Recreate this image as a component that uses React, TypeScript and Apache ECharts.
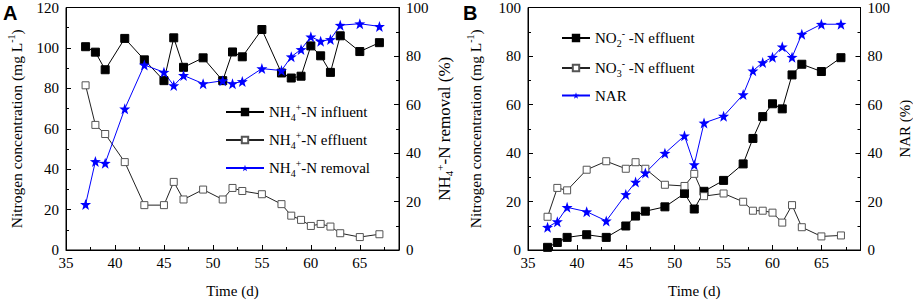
import { useEffect, useRef } from "react";
import * as echarts from "echarts";

const days = [37, 38, 39, 41, 43, 45, 46, 47, 49, 51, 52, 53, 55, 57, 58, 59, 60, 61, 62, 63, 65, 67];
const xTicks = [35, 40, 45, 50, 55, 60, 65];

// Panel A
const nh4Influent = [100.6, 97.9, 89.2, 104.7, 94.1, 83.8, 105, 90.4, 95.1, 83.8, 98, 95.6, 109.1, 87.6, 85.1, 86, 101, 96.1, 87.9, 106, 98.2, 102.6];
const nh4Effluent = [81.5, 61.9, 57.4, 43.5, 22.2, 22.2, 33.7, 25, 29.9, 25, 30.7, 29.2, 27.6, 22.7, 17, 14.9, 11.9, 12.9, 11.6, 8.3, 6.4, 7.8];
const nh4Removal = [18.8, 36.5, 35.8, 58.2, 76.3, 73.3, 67.8, 72, 68.6, 69.8, 68.6, 69.5, 74.8, 74, 79.7, 82.7, 87.9, 86.1, 86.8, 92.7, 93.3, 92.2];

// Panel B
const no2Effluent = [1.1, 3.1, 5.2, 6.3, 5.2, 9.9, 14, 16, 17.8, 23.3, 16.9, 24.2, 28.7, 35.5, 46, 55, 60.3, 58.2, 72.2, 76.6, 73.6, 79.3];
const no3Effluent = [13.7, 25.6, 24.6, 33.1, 36.6, 33.5, 36.2, 33.5, 26.9, 26.4, 31.4, 22.2, 23.3, 19.9, 16.2, 16.2, 15.4, 11.3, 18.5, 9.4, 5.6, 6];
const narValues = [9.4, 11.7, 17.6, 15.8, 12, 22.9, 28, 31.8, 39.9, 47.1, 35.2, 52.4, 55.2, 64.1, 73.9, 77.3, 79.5, 83.8, 79.5, 89, 93.1, 93.1];

const seriesNames = {
  inf: "NH4+-N influent",
  eff: "NH4+-N effluent",
  rem: "NH4+-N removal",
  no2: "NO2--N effluent",
  no3: "NO3--N effluent",
  nar: "NAR",
};

const legendRich: Record<string, string> = {
  [seriesNames.inf]: "{n|NH}{sub|4}{sup|+}{n|-N influent}",
  [seriesNames.eff]: "{n|NH}{sub|4}{sup|+}{n|-N effluent}",
  [seriesNames.rem]: "{n|NH}{sub|4}{sup|+}{n|-N removal}",
  [seriesNames.no2]: "{n|NO}{sub|2}{sup|-}{n| -N effluent}",
  [seriesNames.no3]: "{n|NO}{sub|3}{sup|-}{n| -N effluent}",
  [seriesNames.nar]: "{n|NAR}",
};

const FONT = "Liberation Serif";
const STAR = "path://M0,-10 L2.35,-3.24 L9.51,-3.09 L3.8,1.24 L5.88,8.09 L0,4 L-5.88,8.09 L-3.8,1.24 L-9.51,-3.09 L-2.35,-3.24 Z";
const BLUE = "#0000ff";

function richFor(size: number) {
  const small = Math.round(size * 0.67);
  return {
    n: { fontFamily: FONT, fontSize: size, fontWeight: "normal", color: "#000", lineHeight: 20 },
    sub: { fontFamily: FONT, fontSize: small, fontWeight: "normal", color: "#000", lineHeight: 12, verticalAlign: "bottom" },
    sup: { fontFamily: FONT, fontSize: small, fontWeight: "normal", color: "#000", lineHeight: 10, verticalAlign: "top" },
  };
}

function pairs(vals: number[]) {
  return days.map((d, i) => [d, vals[i]]);
}

function buildOption() {
  const grids = [
    { left: 66, top: 7, width: 333, height: 245 },
    { left: 528, top: 7, width: 334, height: 245 },
  ].map((g) => ({ ...g, show: true, borderColor: "#000", borderWidth: 1, backgroundColor: "transparent" }));

  const xAxis: any[] = [];
  [0, 1].forEach((gi) => {
    xAxis.push({
      type: "value",
      gridIndex: gi,
      min: xTicks[0],
      max: 69,
      interval: 5,
      position: "bottom",
      axisLine: { lineStyle: { color: "#000", width: 1 } },
      axisTick: { inside: true, length: 5, lineStyle: { color: "#000" } },
      axisLabel: { showMaxLabel: false, color: "#000", fontFamily: FONT, fontSize: 15, margin: 5 },
      splitLine: { show: false },
      name: "Time (d)",
      nameLocation: "middle",
      nameGap: 33,
      nameTextStyle: { color: "#000", fontFamily: FONT, fontSize: 15, fontWeight: "normal" },
    });
  });
  [0, 1].forEach((gi) => {
    xAxis.push({
      type: "value",
      gridIndex: gi,
      min: xTicks[0],
      max: 69,
      interval: 2.5,
      position: "bottom",
      axisLine: { show: false },
      axisTick: { inside: true, length: 3, lineStyle: { color: "#000" } },
      axisLabel: { show: false },
      splitLine: { show: false },
    });
  });

  const yBase = (gi: number, max: number, position: string, name: string, nameGap: number, size: number) => ({
    type: "value",
    gridIndex: gi,
    min: 0,
    max,
    interval: 20,
    position,
    axisLine: { show: true, lineStyle: { color: "#000", width: 1 } },
    axisTick: { show: true, inside: true, length: 5, lineStyle: { color: "#000" } },
    minorTick: { show: true, splitNumber: 2, length: 3, lineStyle: { color: "#000" } },
    axisLabel: { color: "#000", fontFamily: FONT, fontSize: 15, margin: 7 },
    splitLine: { show: false },
    minorSplitLine: { show: false },
    name,
    nameLocation: "middle",
    nameRotate: 90,
    nameGap,
    nameTextStyle: { rich: richFor(size), fontFamily: FONT, fontWeight: "normal", fontSize: size },
  });

  const yAxis = [
    yBase(0, 120, "left", "{n|Nitrogen concentration (mg L}{sup|-1}{n|)}", 40, 15.5),
    yBase(0, 100, "right", "{n|NH}{sub|4}{sup|+}{n|-N removal (%)}", 35, 17),
    yBase(1, 100, "left", "{n|Nitrogen concentration (mg L}{sup|-1}{n|)}", 43, 15.5),
    yBase(1, 100, "right", "{n|NAR (%)}", 34, 15),
  ];

  const filled = (name: string, vals: number[], xi: number, yi: number) => ({
    name,
    type: "line",
    xAxisIndex: xi,
    yAxisIndex: yi,
    data: pairs(vals),
    symbol: "rect",
    symbolSize: 8,
    lineStyle: { color: "#000", width: 1 },
    itemStyle: { color: "#000", borderColor: "#000", borderWidth: 1 },
  });
  const open = (name: string, vals: number[], xi: number, yi: number) => ({
    name,
    type: "line",
    xAxisIndex: xi,
    yAxisIndex: yi,
    data: pairs(vals),
    symbol: "rect",
    symbolSize: 7,
    lineStyle: { color: "#222", width: 1 },
    itemStyle: { color: "#fff", borderColor: "#555", borderWidth: 1 },
  });
  const star = (name: string, vals: number[], xi: number, yi: number) => ({
    name,
    type: "line",
    xAxisIndex: xi,
    yAxisIndex: yi,
    data: pairs(vals),
    symbol: STAR,
    symbolSize: 11,
    lineStyle: { color: BLUE, width: 1 },
    itemStyle: { color: BLUE, borderColor: BLUE, borderWidth: 0 },
  });

  const series = [
    filled(seriesNames.inf, nh4Influent, 0, 0),
    open(seriesNames.eff, nh4Effluent, 0, 0),
    star(seriesNames.rem, nh4Removal, 0, 1),
    filled(seriesNames.no2, no2Effluent, 1, 2),
    open(seriesNames.no3, no3Effluent, 1, 2),
    star(seriesNames.nar, narValues, 1, 3),
  ];

  const legendBase = {
    orient: "vertical",
    itemHeight: 8,
    formatter: (name: string) => legendRich[name] || name,
    textStyle: { rich: richFor(15), fontFamily: FONT, fontSize: 15, color: "#000" },
    selectedMode: false,
  };

  return {
    animation: false,
    backgroundColor: "#fff",
    grid: grids,
    xAxis,
    yAxis,
    series,
    legend: [
      { ...legendBase, left: 220, top: 97, itemWidth: 38, itemGap: 8, data: [seriesNames.inf, seriesNames.eff, seriesNames.rem] },
      { ...legendBase, left: 556, top: 23, itemWidth: 28, itemGap: 10, data: [seriesNames.no2, seriesNames.no3, seriesNames.nar] },
    ],
    graphic: [
      { type: "text", left: 3, top: 3, style: { text: "A", font: "bold 20px Liberation Sans", fill: "#000" } },
      { type: "text", left: 463, top: 3, style: { text: "B", font: "bold 20px Liberation Sans", fill: "#000" } },
    ],
  };
}

export default function App() {
  const ref = useRef<HTMLDivElement>(null);
  useEffect(() => {
    if (!ref.current) return;
    const chart = echarts.init(ref.current, null, { renderer: "svg" });
    chart.setOption(buildOption() as any);
    return () => chart.dispose();
  }, []);
  return <div ref={ref} style={{ position: "absolute", left: 0, top: 0, width: 913, height: 303 }} />;
}
